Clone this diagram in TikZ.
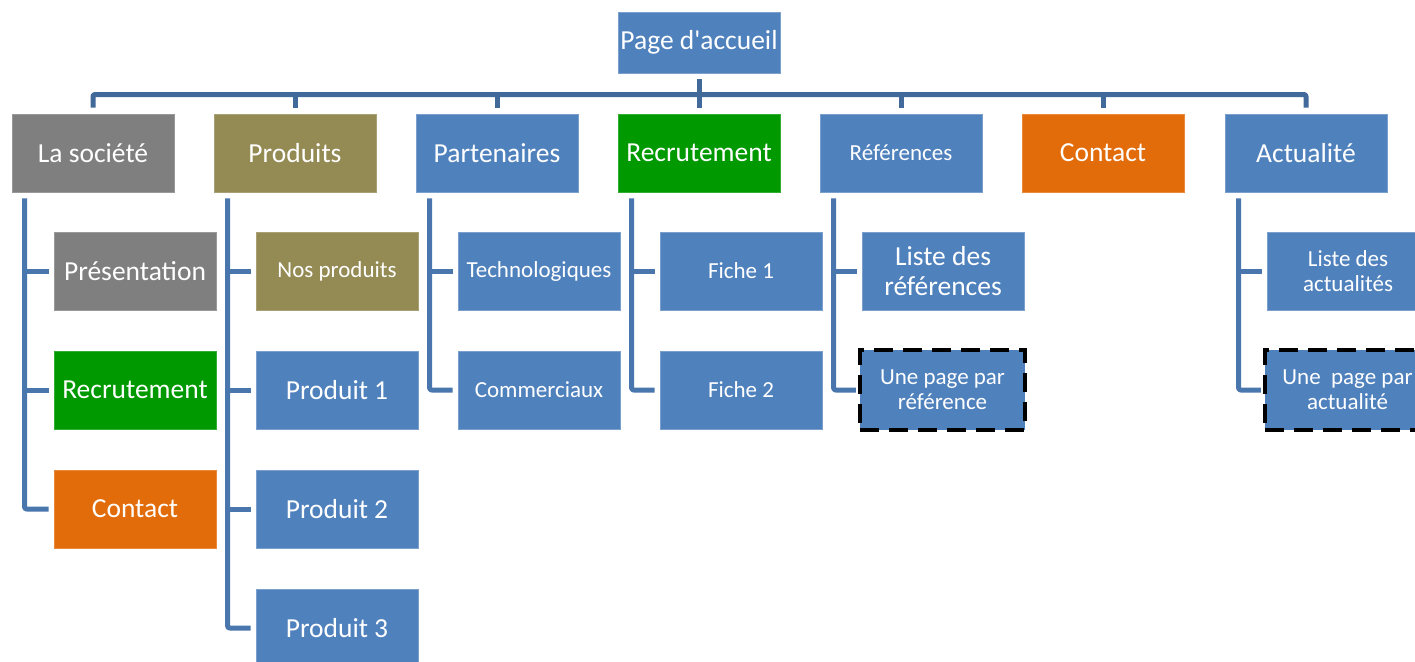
\documentclass[tikz,border=0pt]{standalone}
\usepackage{fontspec}
\setmainfont{Carlito}
\newfontfamily\plainfont{Carlito}
\definecolor{cblue}{HTML}{4F81BD}
\definecolor{cgray}{HTML}{7F7F7F}
\definecolor{colive}{HTML}{948A54}
\definecolor{cgreen}{HTML}{009900}
\definecolor{corange}{HTML}{E36C0A}
\definecolor{busc}{HTML}{41699A}
\definecolor{linec}{HTML}{4A76AE}
\newcommand{\bigtxt}{\fontsize{27.5}{30}\selectfont}
\newcommand{\smalltxt}{\fontsize{23}{25}\selectfont}
\tikzset{
  box/.style={rectangle, minimum width=162pt, minimum height=78pt, inner sep=0pt,
    text=white, align=center, font=\bigtxt, fill=cblue, draw=cblue!75!white, line width=0.8pt},
  sm/.style={font=\smalltxt},
  bluebox/.style={box, fill=cblue, draw=cblue!75!white},
  graybox/.style={box, fill=cgray, draw=cgray!80!white},
  olivebox/.style={box, fill=colive, draw=colive!80!white},
  greenbox/.style={box, fill=cgreen, draw=cgreen!80!white},
  orangebox/.style={box, fill=corange, draw=corange!80!white},
  dashbox/.style={box, minimum width=165pt, minimum height=80pt, draw=black, line width=4.5pt, dash pattern=on 19pt off 10pt},
  bus/.style={line width=5pt, draw=busc, line join=round, rounded corners=2pt},
  conn/.style={line width=5pt, draw=linec, line join=round, rounded corners=2pt}
}
\begin{document}
\begin{tikzpicture}[x=1pt,y=-1pt]
\useasboundingbox (0,0) rectangle (1415,661);
\clip (0,0) rectangle (1415,661);
% root
\node[bluebox, minimum height=61pt] (home) at (699,42.5) {Page d{\plainfont '}accueil};
% top row
\node[graybox]   (t1) at (93,153)   {La société};
\node[olivebox]  (t2) at (295,153)  {Produits};
\node[bluebox]   (t3) at (497,153)  {Partenaires};
\node[greenbox]  (t4) at (699,153)  {Recrutement};
\node[bluebox,sm](t5) at (901,153)  {Références};
\node[orangebox] (t6) at (1103,153) {Contact};
\node[bluebox]   (t7) at (1306,153) {Actualité};
% children of La société
\node[graybox]   (c11) at (135,271) {Présentation};
\node[greenbox]  (c12) at (135,390) {Recrutement};
\node[orangebox] (c13) at (135,509) {Contact};
% children of Produits
\node[olivebox,sm] (c21) at (337,271) {Nos produits};
\node[bluebox]     (c22) at (337,390) {Produit 1};
\node[bluebox]     (c23) at (337,509) {Produit 2};
\node[bluebox]     (c24) at (337,628) {Produit 3};
% children of Partenaires
\node[bluebox,sm] (c31) at (539,271) {Technologiques};
\node[bluebox,sm] (c32) at (539,390) {Commerciaux};
% children of Recrutement
\node[bluebox,sm] (c41) at (741,271) {Fiche 1};
\node[bluebox,sm] (c42) at (741,390) {Fiche 2};
% children of Références
\node[bluebox] (c51) at (943,271) {Liste des\\références};
\node[dashbox,sm] (c52) at (942.5,390) {Une page par\\référence};
% children of Actualité
\node[bluebox,sm] (c71) at (1348,271) {Liste des\\actualités};
\node[dashbox,sm] (c72) at (1347.5,390) {Une\ \ page par\\actualité};
% bus
\coordinate (busy) at (0,94.5);
\draw[bus] ([yshift=6pt]t1.north) |- (busy -| t4.north) -| ([yshift=6pt]t7.north);
\foreach \n in {t2,t3,t5,t6}{
  \draw[bus] ([yshift=6pt]\n.north) -- (\n.north |- busy);
}
\draw[bus] ([yshift=-6pt]home.south) -- ([yshift=6pt]t4.north);
% child connectors
\coordinate (v1) at ([xshift=13pt,yshift=-6pt]t1.south west);
\draw[conn] (v1) |- ([xshift=-5pt]c13.west);
\draw[conn] (v1 |- c11.west) -- ([xshift=-5pt]c11.west);
\draw[conn] (v1 |- c12.west) -- ([xshift=-5pt]c12.west);
\coordinate (v2) at ([xshift=14pt,yshift=-6pt]t2.south west);
\draw[conn] (v2) |- ([xshift=-5pt]c24.west);
\draw[conn] (v2 |- c21.west) -- ([xshift=-5pt]c21.west);
\draw[conn] (v2 |- c22.west) -- ([xshift=-5pt]c22.west);
\draw[conn] (v2 |- c23.west) -- ([xshift=-5pt]c23.west);
\coordinate (v3) at ([xshift=14pt,yshift=-6pt]t3.south west);
\draw[conn] (v3) |- ([xshift=-5pt]c32.west);
\draw[conn] (v3 |- c31.west) -- ([xshift=-5pt]c31.west);
\coordinate (v4) at ([xshift=14pt,yshift=-6pt]t4.south west);
\draw[conn] (v4) |- ([xshift=-5pt]c42.west);
\draw[conn] (v4 |- c41.west) -- ([xshift=-5pt]c41.west);
\coordinate (v5) at ([xshift=14pt,yshift=-6pt]t5.south west);
\draw[conn] (v5) |- ([xshift=-2pt]c52.west);
\draw[conn] (v5 |- c51.west) -- ([xshift=-5pt]c51.west);
\coordinate (v7) at ([xshift=14pt,yshift=-6pt]t7.south west);
\draw[conn] (v7) |- ([xshift=-2pt]c72.west);
\draw[conn] (v7 |- c71.west) -- ([xshift=-5pt]c71.west);
\end{tikzpicture}
\end{document}
